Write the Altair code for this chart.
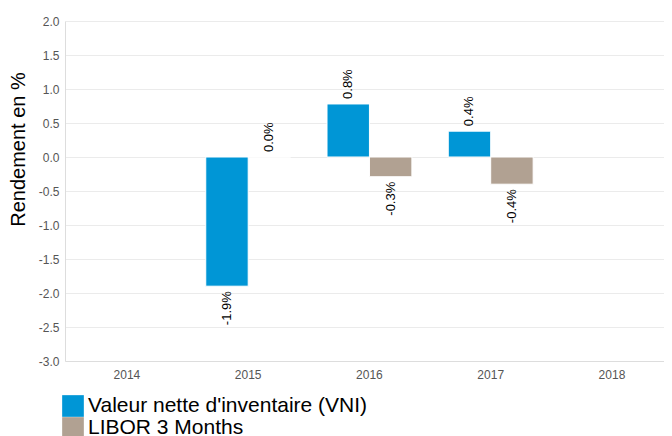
import altair as alt
import pandas as pd

years = ["2014", "2015", "2016", "2017", "2018"]
series = ["Valeur nette d'inventaire (VNI)", "LIBOR 3 Months"]
vni = [None, -1.9, 0.78, 0.38, None]
libor = [None, 0.0, -0.29, -0.4, None]
colors = ["#0096d6", "#b1a192"]
yticks = [-3, -2.5, -2, -1.5, -1, -0.5, 0, 0.5, 1, 1.5, 2]

rows = []
for i, y in enumerate(years):
    for s, vals in zip(series, [vni, libor]):
        if vals[i] is not None:
            rows.append({"year": y, "series": s, "value": vals[i]})
df = pd.DataFrame(rows)

FONT = "Liberation Sans"

x = alt.X("year:N", scale=alt.Scale(domain=years, paddingInner=0.3, paddingOuter=0.12, align=0.67),
          axis=alt.Axis(title=None, labelAngle=0, ticks=False, labelColor="#555555",
                        labelFontSize=12, labelPadding=8, domainColor="#dddddd", grid=False))
xo = alt.XOffset("series:N", scale=alt.Scale(domain=series, paddingInner=0, paddingOuter=0))
y = alt.Y("value:Q", scale=alt.Scale(domain=[-3, 2], nice=False),
          axis=alt.Axis(title="Rendement en %", values=yticks,
                        labelExpr="replace(format(datum.value, '.1f'), '\u2212', '-')",
                        labelOverlap=False, ticks=False, labelColor="#555555", labelFontSize=12,
                        labelPadding=6, domainColor="#dddddd", gridColor="#ebebeb",
                        titleFontSize=20, titleFontWeight="normal", titleColor="#000000",
                        titleAngle=270, titleX=-47, titleY=128, titleAlign="center",
                        titleBaseline="middle"))

base = alt.Chart(df).encode(x=x, xOffset=xo, y=y)

bars = base.mark_bar(stroke="white", strokeWidth=1).encode(
    color=alt.Color("series:N", scale=alt.Scale(domain=series, range=colors),
                    legend=alt.Legend(title=None, orient="none", legendX=-3, legendY=374,
                                      symbolType="square", symbolSize=470, symbolStrokeWidth=0,
                                      labelFontSize=21, labelColor="#000000", rowPadding=0,
                                      labelOffset=4, symbolOpacity=1, labelLimit=500)),
)

lab = base.transform_calculate(
    label="replace(format(datum.value, '.1f'), '\u2212', '-') + '%'")

pos = lab.transform_filter("datum.value >= 0").mark_text(
    angle=270, align="left", baseline="middle", dx=5, fontSize=13, color="#000000", font=FONT
).encode(text="label:N")

neg = lab.transform_filter("datum.value < 0").mark_text(
    angle=270, align="right", baseline="middle", dx=-5, fontSize=13, color="#000000", font=FONT
).encode(text="label:N")

chart = alt.layer(bars, pos, neg).properties(
    width=599, height=340,
    autosize=alt.AutoSizeParams(type="none"),
    padding={"left": 57, "top": 13, "right": 0, "bottom": 75},
).configure(font=FONT).configure_view(stroke=None)

chart.save("out.html", embed_options={"renderer": "svg", "actions": False})
